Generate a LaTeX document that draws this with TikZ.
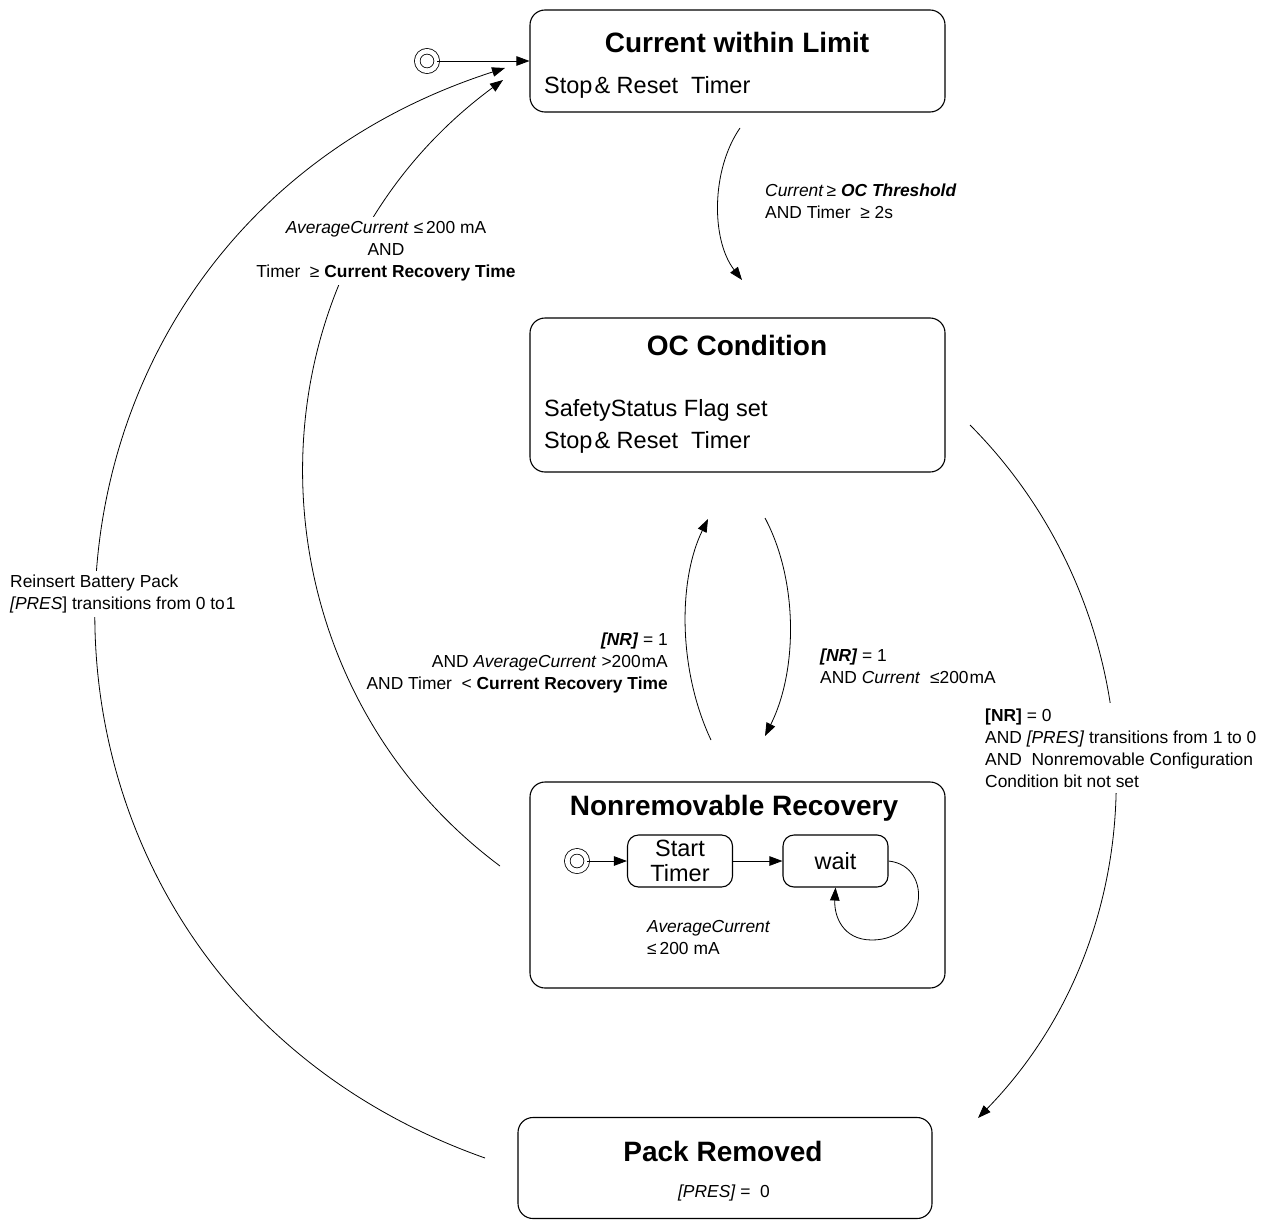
\documentclass[tikz,border=0pt]{standalone}
\usepackage{fontspec}
\setmainfont{Liberation Sans}
\usetikzlibrary{arrows.meta}
\tikzstyle{state}=[draw, rounded corners=15pt, line width=1.1pt, minimum width=415pt]
\tikzstyle{substate}=[draw, rounded corners=11pt, line width=1.1pt, minimum width=105pt,
	                        minimum height=52pt, align=center, font=\fontsize{23.5}{25}\selectfont]
\tikzstyle{title}=[inner sep=0pt, font=\fontsize{28}{32}\selectfont\bfseries]
\tikzstyle{body}=[inner sep=0pt, anchor=west, align=left, font=\fontsize{23.5}{32}\selectfont]
\tikzstyle{guard}=[inner sep=4pt, font=\fontsize{17.4}{22}\selectfont]
\tikzstyle{trans}=[line width=0.8pt, -{Triangle[length=13pt,width=9.5pt]}]
\tikzstyle{init}=[draw, circle, double, line width=0.8pt, double distance=4.7pt,
	                        minimum size=19.5pt, inner sep=0pt]

\begin{document}
\begin{tikzpicture}[x=1pt, y=-1pt]
\useasboundingbox (0,0) rectangle (1268,1220);
% states
\node[state, minimum height=102pt] (cwl) at (737.5,61) {};
\node[title] (cwlt) at (737,42) {Current within Limit};
\node[body] (cwlb) at (544,87) {Stop\kern2pt\& Reset\ \ Timer};
\node[init] (ini) at (427,61) {};
\node[state, minimum height=154pt] (oc) at (737.5,395) {};
\node[title] (oct) at (737,345) {OC Condition};
\node[body] (ocb) at (544,426) {SafetyStatus Flag set\\Stop\kern2pt\& Reset\ \ Timer};
\node[state, minimum height=206pt] (nr) at (737.5,885) {};
\node[title] (nrt) at (734,808) {Nonremovable Recovery};
\node[init] (ini2) at (577,861) {};
\node[substate] (st) at (680,861) {Start\\Timer};
\node[substate] (wt) at (835.5,861) {wait};
\node[state, minimum width=414pt, minimum height=101pt] (pr) at (725,1168) {};
\node[title] (prt) at (723,1151) {Pack Removed};
\node[guard] (prb) at (724,1193) {\textit{[PRES]} = \ 0};
% free ends
\coordinate (c1s) at (740,128);  \coordinate (c1e) at (742,280);
\coordinate (c2s) at (500,866);  \coordinate (c2e) at (503,80);
\coordinate (c3s) at (485,1158); \coordinate (c3e) at (505,68);
\coordinate (c4s) at (765,518);  \coordinate (c4e) at (765,736);
\coordinate (c5s) at (711,740);  \coordinate (c5e) at (708,519);
\coordinate (c6s) at (970,425);  \coordinate (c6e) at (978,1118);
% transitions
\draw[trans] (ini) -- (cwl.west);
\draw[trans] (c1s) .. controls (711,170) and (711,240) .. (c1e);
\draw[trans] (c2s) .. controls (239,671) and (237,276) .. (c2e);
\node[guard, align=center, fill=white] (g2) at (386,251)
	{\textit{AverageCurrent} ≤\,200 mA\\AND\\Timer \ ≥ \textbf{Current Recovery Time}};
\draw[trans] (c3s) .. controls (-43,971) and (-30,240) .. (c3e);
\draw[trans] (c4s) .. controls (798,580) and (798,670) .. (c4e);
\draw[trans] (c5s) .. controls (678,670) and (678,580) .. (c5e);
\draw[trans] (c6s) .. controls (1159,615) and (1165,926) .. (c6e);
\draw[trans] (ini2) -- (st);
\draw[trans] (st) -- (wt);
\draw[trans] (wt.east) .. controls (935,866) and (926,940) .. (872,940)
	.. controls (842,940) and (834,915) .. (wt.south);
% guards
\node[guard, anchor=west, align=left] (g1) at (761,201)
	{\textit{Current}\,≥ \textbf{\textit{OC Threshold}}\\AND Timer \ ≥ 2s};
\node[guard, anchor=west, align=left, fill=white] (g3) at (6,594)
	{Reinsert Battery Pack\\\textit{[PRES}] transitions from 0 to\kern1pt1};
\node[guard, anchor=east, align=right] (g4) at (672,663)
	{\textbf{\textit{[NR]}} = 1\\AND \textit{AverageCurrent} >200\kern1ptmA\\AND Timer \ < \textbf{Current Recovery Time}};
\node[guard, anchor=west, align=left] (g5) at (816,666)
	{\textbf{\textit{[NR]}} = 1\\AND \textit{Current} \ ≤200\kern1ptmA};
\node[guard, anchor=west, align=left, fill=white, inner ysep=6pt] (g6) at (981,748)
	{\textbf{[NR]} = 0\\AND \textit{[PRES]} transitions from 1 to 0\\AND \ Nonremovable Configuration\\Condition bit not set};
\node[guard, anchor=west, align=left] (g7) at (643,937)
	{\textit{AverageCurrent}\\≤\,200 mA};
\end{tikzpicture}
\end{document}
